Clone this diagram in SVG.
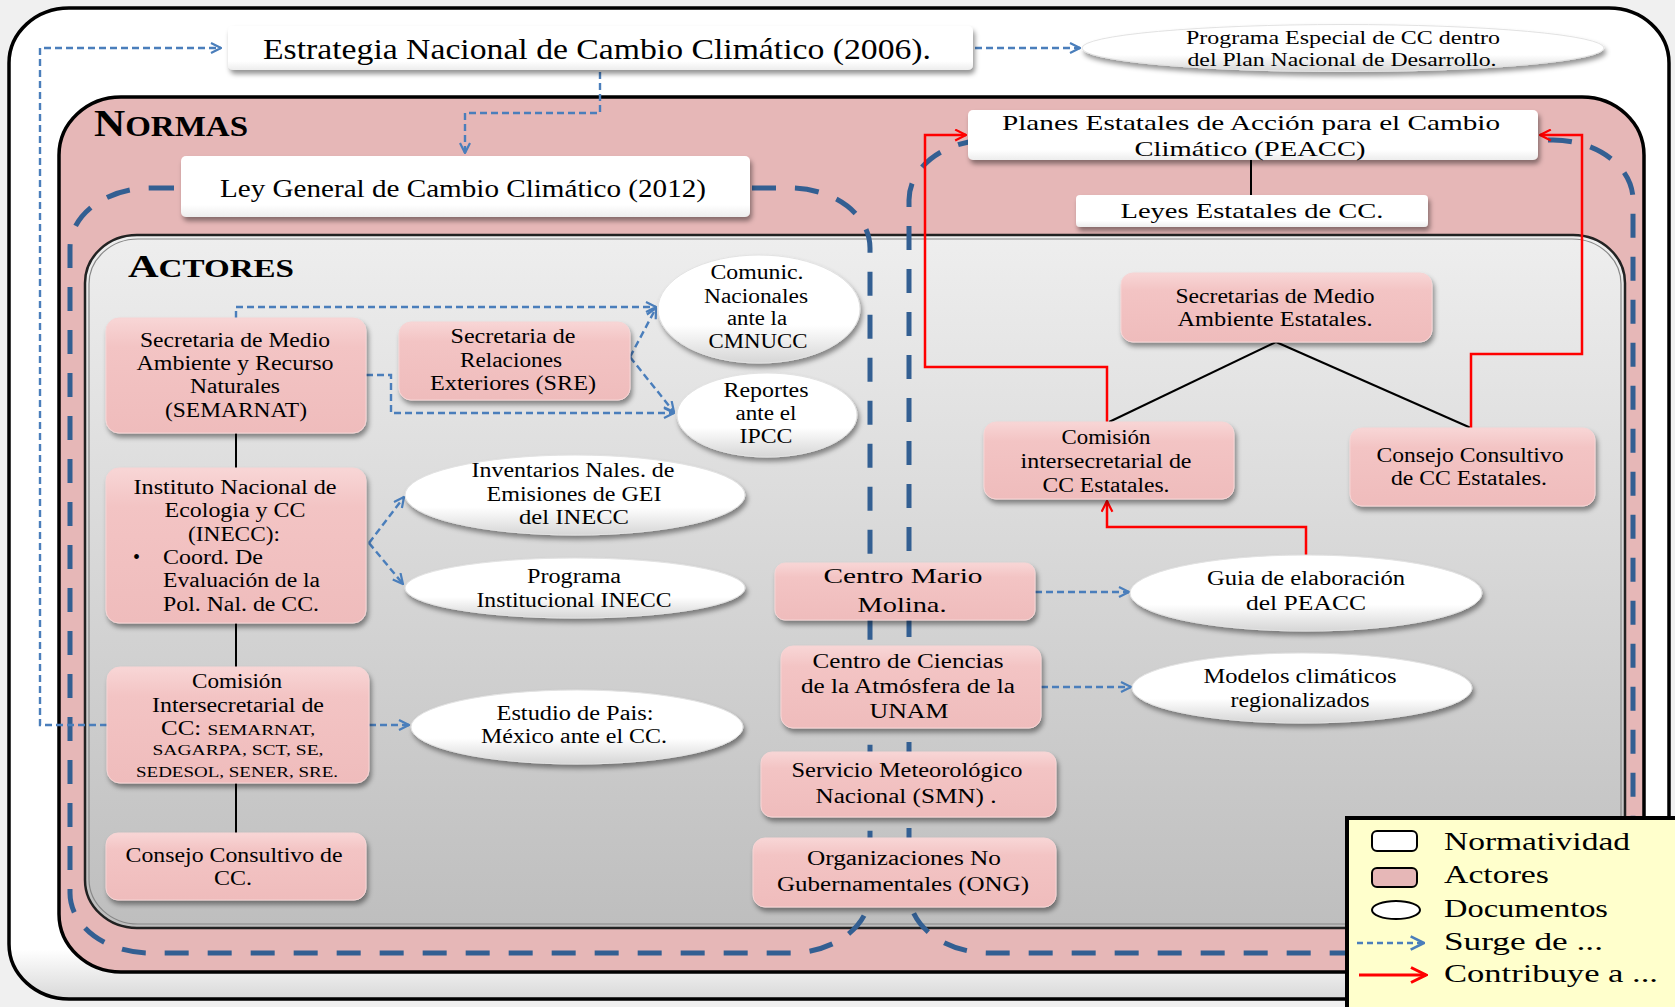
<svg xmlns="http://www.w3.org/2000/svg" width="1675" height="1007" viewBox="0 0 1675 1007">
<defs>
<style>
.t{font-family:"Liberation Serif","Times New Roman",serif;fill:#000;}
.c{text-anchor:middle;}
.nb{fill:url(#gWhite);filter:url(#sh);}
.ab{fill:url(#gPink);stroke:#F6D4D4;stroke-width:1;filter:url(#sh);}
.el{fill:url(#gEll);stroke:#E2E2E2;stroke-width:1;filter:url(#sh);}
.loop{fill:none;stroke:#335F92;stroke-width:5;stroke-dasharray:24 19;}
.sd{fill:none;stroke:#4A7EBB;stroke-width:2.4;stroke-dasharray:7 4;marker-end:url(#ab);}
.rd{fill:none;stroke:#FF0000;stroke-width:2.5;marker-end:url(#ar);}
.bl{fill:none;stroke:#000;stroke-width:2;}
</style>
<linearGradient id="gOuter" x1="0" y1="0" x2="0" y2="1"><stop offset="0" stop-color="#FFFFFF"/><stop offset="0.95" stop-color="#FFFFFF"/><stop offset="1" stop-color="#D8D8D8"/></linearGradient>
<linearGradient id="gAct" x1="0" y1="0" x2="0" y2="1"><stop offset="0" stop-color="#EEEEEE"/><stop offset="1" stop-color="#BEBEBE"/></linearGradient>
<linearGradient id="gWhite" x1="0" y1="0" x2="0" y2="1"><stop offset="0" stop-color="#FFFFFF"/><stop offset="0.8" stop-color="#FFFFFF"/><stop offset="1" stop-color="#EDEDED"/></linearGradient>
<linearGradient id="gPink" x1="0" y1="0" x2="0" y2="1"><stop offset="0" stop-color="#F8D6D6"/><stop offset="0.25" stop-color="#F3C4C4"/><stop offset="1" stop-color="#EFBCBC"/></linearGradient>
<linearGradient id="gEll" x1="0" y1="0" x2="0" y2="1"><stop offset="0" stop-color="#FFFFFF"/><stop offset="0.65" stop-color="#FFFFFF"/><stop offset="1" stop-color="#D6D6D6"/></linearGradient>
<filter id="sh" x="-10%" y="-15%" width="125%" height="145%"><feDropShadow dx="2" dy="4" stdDeviation="2.5" flood-color="#000" flood-opacity="0.42"/></filter>
<marker id="ab" viewBox="0 0 12 12" refX="11" refY="6" markerWidth="12" markerHeight="12" markerUnits="userSpaceOnUse" orient="auto"><path d="M1,1 L11,6 L1,11" fill="none" stroke="#4A7EBB" stroke-width="2.2"/></marker>
<marker id="ar" viewBox="0 0 12 12" refX="11" refY="6" markerWidth="13" markerHeight="13" markerUnits="userSpaceOnUse" orient="auto"><path d="M1,1 L11,6 L1,11" fill="none" stroke="#FF0000" stroke-width="2"/></marker>
<marker id="abL" viewBox="0 0 12 12" refX="11" refY="6" markerWidth="16" markerHeight="16" markerUnits="userSpaceOnUse" orient="auto"><path d="M1,1 L11,6 L1,11" fill="none" stroke="#4A7EBB" stroke-width="2"/></marker>
<marker id="arL" viewBox="0 0 12 12" refX="11" refY="6" markerWidth="18" markerHeight="18" markerUnits="userSpaceOnUse" orient="auto"><path d="M1,1 L11,6 L1,11" fill="none" stroke="#FF0000" stroke-width="2"/></marker>
</defs>

<rect x="0" y="0" width="1675" height="1007" fill="#F0F0F0"/>

<g id="containers">
<rect x="9" y="8" width="1660" height="991" rx="60" ry="55" fill="url(#gOuter)" stroke="#000" stroke-width="3.5"/>
<rect x="59" y="97" width="1585" height="875" rx="62" ry="58" fill="#E6B7B7" stroke="#000" stroke-width="3.5"/>
<rect x="85" y="235" width="1540" height="693" rx="52" ry="48" fill="url(#gAct)" stroke="#222" stroke-width="2.5"/>
<rect x="89" y="239" width="1532" height="685" rx="49" ry="45" fill="none" stroke="#888" stroke-width="1.2"/>
<text class="t" x="94" y="136" font-weight="bold" textLength="154" lengthAdjust="spacingAndGlyphs"><tspan font-size="38">N</tspan><tspan font-size="29">ORMAS</tspan></text>
<text class="t" x="128" y="277" font-weight="bold" textLength="166" lengthAdjust="spacingAndGlyphs"><tspan font-size="32">A</tspan><tspan font-size="25">CTORES</tspan></text>
</g>

<g id="loops">
<rect class="loop" x="70" y="188" width="800" height="765" rx="80" ry="60"/>
<rect class="loop" x="909" y="140" width="724" height="813" rx="80" ry="60"/>
</g>

<g id="connectors">
<path class="sd" d="M107,725 H40 V48 H221"/>
<path class="sd" d="M975,48 H1080"/>
<path class="sd" d="M600,72 V113 H465 V153"/>
<path class="sd" d="M236,318 V307 H656"/>
<path class="sd" d="M366,375 H391 V413 H674"/>
<path class="sd" d="M630,357 L656,308"/>
<path class="sd" d="M630,357 L674,412"/>
<path class="sd" d="M369,543 L404,497"/>
<path class="sd" d="M369,543 L403,584"/>
<path class="sd" d="M369,725 H409"/>
<path class="sd" d="M1035,592 H1129"/>
<path class="sd" d="M1041,687 H1131"/>
<path class="bl" d="M236,433 V468"/>
<path class="bl" d="M236,623 V667"/>
<path class="bl" d="M236,783 V833"/>
<path class="bl" d="M1251,160 V195"/>
<path class="bl" d="M1276,342 L1109,422"/>
<path class="bl" d="M1276,342 L1471,428"/>
<path class="rd" d="M1107,422 V367 H925 V135 H966"/>
<path class="rd" d="M1471,428 V354 H1582 V135 H1540"/>
<path class="rd" d="M1306,555 V527 H1107 V501"/>
</g>

<g id="n-estrategia">
<rect class="nb" x="228" y="26" width="745" height="44" rx="5"/>
<text class="t c" x="597" y="59" font-size="29" textLength="668" lengthAdjust="spacingAndGlyphs">Estrategia Nacional de Cambio Climático (2006).</text>
</g>
<g id="n-programa-especial">
<ellipse class="el" cx="1343" cy="48" rx="261" ry="23.5"/>
<text class="t c" x="1343" y="44" font-size="19" textLength="314" lengthAdjust="spacingAndGlyphs">Programa Especial de CC dentro</text>
<text class="t c" x="1342" y="66" font-size="19" textLength="309" lengthAdjust="spacingAndGlyphs">del Plan Nacional de Desarrollo.</text>
</g>
<g id="n-ley">
<rect class="nb" x="181" y="156" width="569" height="61" rx="5"/>
<text class="t c" x="463" y="197" font-size="25" textLength="486" lengthAdjust="spacingAndGlyphs">Ley General de Cambio Climático (2012)</text>
</g>
<g id="n-planes">
<rect class="nb" x="968" y="110" width="570" height="50" rx="5"/>
<text class="t c" x="1251" y="130" font-size="22" textLength="498" lengthAdjust="spacingAndGlyphs">Planes Estatales de Acción para el Cambio</text>
<text class="t c" x="1250" y="156" font-size="22" textLength="231" lengthAdjust="spacingAndGlyphs">Climático (PEACC)</text>
</g>
<g id="n-leyes">
<rect class="nb" x="1076" y="195" width="352" height="32" rx="4"/>
<text class="t c" x="1252" y="218" font-size="21" textLength="263" lengthAdjust="spacingAndGlyphs">Leyes Estatales de CC.</text>
</g>

<g id="n-semarnat">
<rect class="ab" x="106" y="318" width="260" height="115" rx="13"/>
<text class="t c" x="235" y="347" font-size="20" textLength="190" lengthAdjust="spacingAndGlyphs">Secretaria de Medio</text>
<text class="t c" x="235" y="370" font-size="20" textLength="197" lengthAdjust="spacingAndGlyphs">Ambiente y Recurso</text>
<text class="t c" x="235" y="393" font-size="20" textLength="90" lengthAdjust="spacingAndGlyphs">Naturales</text>
<text class="t c" x="236" y="417" font-size="20" textLength="142" lengthAdjust="spacingAndGlyphs">(SEMARNAT)</text>
</g>
<g id="n-sre">
<rect class="ab" x="399" y="322" width="231" height="78" rx="12"/>
<text class="t c" x="513" y="343" font-size="20" textLength="125" lengthAdjust="spacingAndGlyphs">Secretaria de</text>
<text class="t c" x="511" y="367" font-size="20" textLength="102" lengthAdjust="spacingAndGlyphs">Relaciones</text>
<text class="t c" x="513" y="390" font-size="20" textLength="166" lengthAdjust="spacingAndGlyphs">Exteriores (SRE)</text>
</g>
<g id="n-comunic">
<ellipse class="el" cx="759" cy="309" rx="101" ry="54"/>
<text class="t c" x="757" y="279" font-size="20" textLength="93" lengthAdjust="spacingAndGlyphs">Comunic.</text>
<text class="t c" x="756" y="303" font-size="20" textLength="104" lengthAdjust="spacingAndGlyphs">Nacionales</text>
<text class="t c" x="757" y="325" font-size="20" textLength="60" lengthAdjust="spacingAndGlyphs">ante la</text>
<text class="t c" x="758" y="348" font-size="20" textLength="99" lengthAdjust="spacingAndGlyphs">CMNUCC</text>
</g>
<g id="n-reportes">
<ellipse class="el" cx="767" cy="415" rx="90" ry="42"/>
<text class="t c" x="766" y="397" font-size="20" textLength="85" lengthAdjust="spacingAndGlyphs">Reportes</text>
<text class="t c" x="766" y="420" font-size="20" textLength="61" lengthAdjust="spacingAndGlyphs">ante el</text>
<text class="t c" x="766" y="443" font-size="20" textLength="53" lengthAdjust="spacingAndGlyphs">IPCC</text>
</g>
<g id="n-inecc">
<rect class="ab" x="106" y="468" width="260" height="155" rx="13"/>
<text class="t c" x="235" y="494" font-size="20" textLength="203" lengthAdjust="spacingAndGlyphs">Instituto Nacional de</text>
<text class="t c" x="235" y="517" font-size="20" textLength="141" lengthAdjust="spacingAndGlyphs">Ecologia y CC</text>
<text class="t c" x="234" y="541" font-size="20" textLength="92" lengthAdjust="spacingAndGlyphs">(INECC):</text>
<text class="t" x="133" y="564" font-size="20">•</text>
<text class="t" x="163" y="564" font-size="20" textLength="100" lengthAdjust="spacingAndGlyphs">Coord. De</text>
<text class="t" x="163" y="587" font-size="20" textLength="157" lengthAdjust="spacingAndGlyphs">Evaluación de la</text>
<text class="t" x="163" y="611" font-size="20" textLength="156" lengthAdjust="spacingAndGlyphs">Pol. Nal. de CC.</text>
</g>
<g id="n-inventarios">
<ellipse class="el" cx="575" cy="495" rx="170" ry="40"/>
<text class="t c" x="573" y="477" font-size="20" textLength="203" lengthAdjust="spacingAndGlyphs">Inventarios Nales. de</text>
<text class="t c" x="574" y="501" font-size="20" textLength="175" lengthAdjust="spacingAndGlyphs">Emisiones de GEI</text>
<text class="t c" x="574" y="524" font-size="20" textLength="110" lengthAdjust="spacingAndGlyphs">del INECC</text>
</g>
<g id="n-programa-inst">
<ellipse class="el" cx="575" cy="588" rx="170" ry="30"/>
<text class="t c" x="574" y="583" font-size="20" textLength="94" lengthAdjust="spacingAndGlyphs">Programa</text>
<text class="t c" x="574" y="607" font-size="20" textLength="195" lengthAdjust="spacingAndGlyphs">Institucional INECC</text>
</g>
<g id="n-comision">
<rect class="ab" x="107" y="667" width="262" height="116" rx="13"/>
<text class="t c" x="237" y="688" font-size="20" textLength="90" lengthAdjust="spacingAndGlyphs">Comisión</text>
<text class="t c" x="238" y="712" font-size="20" textLength="172" lengthAdjust="spacingAndGlyphs">Intersecretarial de</text>
<text class="t c" x="238" y="735" textLength="154" lengthAdjust="spacingAndGlyphs"><tspan font-size="20">CC: </tspan><tspan font-size="15.5">SEMARNAT,</tspan></text>
<text class="t c" x="238" y="755" font-size="15.5" textLength="171" lengthAdjust="spacingAndGlyphs">SAGARPA, SCT, SE,</text>
<text class="t c" x="237" y="777" font-size="15.5" textLength="202" lengthAdjust="spacingAndGlyphs">SEDESOL, SENER, SRE.</text>
</g>
<g id="n-estudio">
<ellipse class="el" cx="577" cy="727" rx="166" ry="37"/>
<text class="t c" x="575" y="720" font-size="20" textLength="157" lengthAdjust="spacingAndGlyphs">Estudio de Pais:</text>
<text class="t c" x="574" y="743" font-size="20" textLength="186" lengthAdjust="spacingAndGlyphs">México ante el CC.</text>
</g>
<g id="n-consejo">
<rect class="ab" x="106" y="833" width="260" height="67" rx="12"/>
<text class="t c" x="234" y="862" font-size="20" textLength="217" lengthAdjust="spacingAndGlyphs">Consejo Consultivo de</text>
<text class="t c" x="233" y="885" font-size="20" textLength="38" lengthAdjust="spacingAndGlyphs">CC.</text>
</g>

<g id="n-centro-mario">
<rect class="ab" x="775" y="563" width="260" height="57" rx="10"/>
<text class="t c" x="903" y="583" font-size="22" textLength="159" lengthAdjust="spacingAndGlyphs">Centro Mario</text>
<text class="t c" x="902" y="612" font-size="22" textLength="89" lengthAdjust="spacingAndGlyphs">Molina.</text>
</g>
<g id="n-guia">
<ellipse class="el" cx="1306" cy="593" rx="176" ry="38"/>
<text class="t c" x="1306" y="585" font-size="20" textLength="198" lengthAdjust="spacingAndGlyphs">Guia de elaboración</text>
<text class="t c" x="1306" y="610" font-size="20" textLength="120" lengthAdjust="spacingAndGlyphs">del PEACC</text>
</g>
<g id="n-centro-ciencias">
<rect class="ab" x="781" y="646" width="260" height="82" rx="12"/>
<text class="t c" x="908" y="668" font-size="20" textLength="191" lengthAdjust="spacingAndGlyphs">Centro de Ciencias</text>
<text class="t c" x="908" y="693" font-size="20" textLength="214" lengthAdjust="spacingAndGlyphs">de la Atmósfera de la</text>
<text class="t c" x="909" y="718" font-size="20" textLength="79" lengthAdjust="spacingAndGlyphs">UNAM</text>
</g>
<g id="n-modelos">
<ellipse class="el" cx="1302" cy="688" rx="170" ry="35"/>
<text class="t c" x="1300" y="683" font-size="20" textLength="193" lengthAdjust="spacingAndGlyphs">Modelos climáticos</text>
<text class="t c" x="1300" y="707" font-size="20" textLength="139" lengthAdjust="spacingAndGlyphs">regionalizados</text>
</g>
<g id="n-servicio">
<rect class="ab" x="761" y="752" width="295" height="65" rx="11"/>
<text class="t c" x="907" y="777" font-size="20" textLength="231" lengthAdjust="spacingAndGlyphs">Servicio Meteorológico</text>
<text class="t c" x="906" y="803" font-size="20" textLength="181" lengthAdjust="spacingAndGlyphs">Nacional (SMN) .</text>
</g>
<g id="n-ong">
<rect class="ab" x="753" y="838" width="303" height="69" rx="12"/>
<text class="t c" x="904" y="865" font-size="20" textLength="194" lengthAdjust="spacingAndGlyphs">Organizaciones No</text>
<text class="t c" x="903" y="891" font-size="20" textLength="252" lengthAdjust="spacingAndGlyphs">Gubernamentales (ONG)</text>
</g>

<g id="n-secretarias-estatales">
<rect class="ab" x="1121" y="273" width="311" height="69" rx="12"/>
<text class="t c" x="1275" y="303" font-size="20" textLength="199" lengthAdjust="spacingAndGlyphs">Secretarias de Medio</text>
<text class="t c" x="1275" y="326" font-size="20" textLength="195" lengthAdjust="spacingAndGlyphs">Ambiente Estatales.</text>
</g>
<g id="n-comision-estatales">
<rect class="ab" x="984" y="422" width="250" height="77" rx="12"/>
<text class="t c" x="1106" y="444" font-size="20" textLength="89" lengthAdjust="spacingAndGlyphs">Comisión</text>
<text class="t c" x="1106" y="468" font-size="20" textLength="171" lengthAdjust="spacingAndGlyphs">intersecretarial de</text>
<text class="t c" x="1106" y="492" font-size="20" textLength="127" lengthAdjust="spacingAndGlyphs">CC Estatales.</text>
</g>
<g id="n-consejo-estatales">
<rect class="ab" x="1350" y="428" width="245" height="78" rx="12"/>
<text class="t c" x="1470" y="462" font-size="20" textLength="187" lengthAdjust="spacingAndGlyphs">Consejo Consultivo</text>
<text class="t c" x="1469" y="485" font-size="20" textLength="156" lengthAdjust="spacingAndGlyphs">de CC Estatales.</text>
</g>

<g id="legend">
<rect x="1347" y="818" width="332" height="195" fill="#FFFFCC" stroke="#000" stroke-width="4"/>
<rect x="1372" y="831" width="45" height="20" rx="5" fill="#FFFFFF" stroke="#000" stroke-width="2"/>
<rect x="1372" y="868" width="45" height="19" rx="5" fill="#E6B7B7" stroke="#000" stroke-width="2"/>
<ellipse cx="1396" cy="910" rx="24" ry="9" fill="#FFFFFF" stroke="#000" stroke-width="2"/>
<path d="M1357,943 H1424" fill="none" stroke="#4A7EBB" stroke-width="2.5" stroke-dasharray="6 4" marker-end="url(#abL)"/>
<path d="M1359,975 H1426" fill="none" stroke="#FF0000" stroke-width="3" marker-end="url(#arL)"/>
<text class="t" x="1444" y="850" font-size="26" textLength="186" lengthAdjust="spacingAndGlyphs">Normatividad</text>
<text class="t" x="1444" y="883" font-size="26" textLength="105" lengthAdjust="spacingAndGlyphs">Actores</text>
<text class="t" x="1444" y="917" font-size="26" textLength="164" lengthAdjust="spacingAndGlyphs">Documentos</text>
<text class="t" x="1444" y="950" font-size="26" textLength="159" lengthAdjust="spacingAndGlyphs">Surge de ...</text>
<text class="t" x="1444" y="982" font-size="26" textLength="214" lengthAdjust="spacingAndGlyphs">Contribuye a ...</text>
</g>
</svg>
